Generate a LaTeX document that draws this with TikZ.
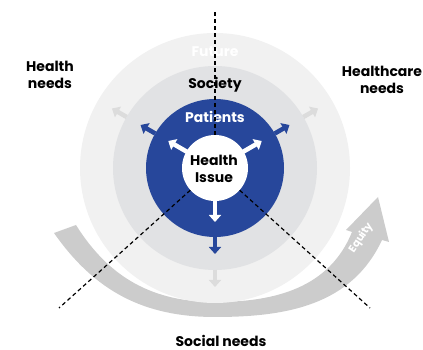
\documentclass[tikz,border=0pt]{standalone}
\usepackage{fontspec}
\setmainfont{Poppins}
\usepackage{xcolor}
\usetikzlibrary{arrows.meta,calc}

\definecolor{futuregray}{HTML}{F1F1F1}
\definecolor{societygray}{HTML}{E1E2E4}
\definecolor{patientblue}{HTML}{27479B}
\definecolor{arrowgray}{HTML}{DCDCDC}
\definecolor{bandgray}{HTML}{CCCCCC}

\tikzset{
  ring/.style={circle,inner sep=0pt},
  lbl/.style={font=\fontsize{14}{16.5}\selectfont\bfseries,align=center},
  dashline/.style={line width=1.2pt,dash pattern=on 4pt off 3pt},
  outarrow/.style={line width=4.5pt,-{Triangle[width=12pt,length=7pt]}}
}

\begin{document}
\begin{tikzpicture}[x=1pt,y=1pt]
    \useasboundingbox (0,0) rectangle (423,350);
    \coordinate (O) at (215,182);

    % equity band
    \fill[bandgray] (54,117) to[out=-55,in=180] (215,33) to[out=0,in=-115] (382,110)
        -- (389,108) -- (378,153) -- (346,120) -- (352,118)
        to[out=-112,in=0] (215,48) to[out=180,in=-58] (76,125) -- cycle;
    \node[font=\fontsize{10.5}{11}\selectfont\bfseries,text=white,rotate=56,inner sep=0pt] (equity) at (361,112) {Equity};

    % rings
    \node[ring,fill=futuregray,minimum size=270pt] (future) at (O) {};
    \node[ring,fill=societygray,minimum size=204pt] (society) at (O) {};
    \node[ring,fill=patientblue,minimum size=138pt] (patients) at (O) {};
    \node[ring,fill=white,minimum size=66pt] (issue) at (O) {};

    % arrows
    \foreach \a in {30,150,270} {
        \draw[outarrow,white] (O) ++(\a:30) -- ++(\a:24);
        \draw[outarrow,patientblue] (O) ++(\a:69) -- ++(\a:17);
        \draw[outarrow,arrowgray] (O) ++(\a:102) -- ++(\a:17);
    }

    % labels
    \node[lbl,text=white] (futurelbl) at (215,298) {Future};
    \node[lbl] (societylbl) at (215,265) {Society};
    \node[lbl,text=white] (patientslbl) at (215,233) {Patients};
    \node[lbl] (issuelbl) at (214,181) {Health\\Issue};
    \node[lbl] (healthlbl) at (50,275) {Health\\needs};
    \node[lbl] (carelbl) at (382,270) {Healthcare\\needs};
    \node[lbl] (sociallbl) at (221,9) {Social needs};

    % dividers
    \coordinate (up) at (215,340);
    \coordinate (ll) at (59,42);
    \coordinate (lr) at (370,42);
    \draw[dashline] (issue.90) -- (up);
    \draw[dashline] (issue.222) -- (ll);
    \draw[dashline] (issue.318) -- (lr);
\end{tikzpicture}
\end{document}
